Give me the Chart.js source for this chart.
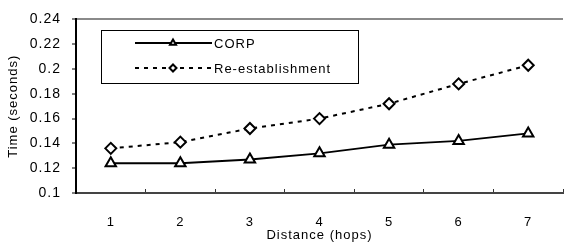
<!DOCTYPE html>
<html>
<head>
<meta charset="utf-8">
<script src="https://cdn.jsdelivr.net/npm/chart.js@4/dist/chart.umd.min.js"></script>
<style>
  html, body { margin: 0; padding: 0; background: #fff; }
  #wrap { width: 571px; height: 249px; position: relative; }
</style>
</head>
<body>
<div id="wrap"><canvas id="myChart" width="571" height="249"></canvas></div>
<script>
// donnees
const hops = ["1", "2", "3", "4", "5", "6", "7"];
const corp = [0.124, 0.124, 0.127, 0.132, 0.139, 0.142, 0.148];
const reEstablishment = [0.136, 0.141, 0.152, 0.160, 0.172, 0.188, 0.203];
const yTicks = [0.1, 0.12, 0.14, 0.16, 0.18, 0.2, 0.22, 0.24];

const police = "'Liberation Sans', Arial, sans-serif";

// texte un peu espace comme sur l'original
const espacement = {
  id: "espacement",
  beforeDraw(chart) {
    chart.ctx.letterSpacing = "1px";
  },
};

// legende dessinee dans un cadre a l'interieur du graphique
const legendeCadre = {
  id: "legendeCadre",
  afterDatasetsDraw(chart) {
    const ctx = chart.ctx;
    ctx.save();
    ctx.fillStyle = "#fff";
    ctx.fillRect(101, 30, 257, 53);
    ctx.strokeStyle = "#000";
    ctx.lineWidth = 1;
    ctx.strokeRect(101.5, 30.5, 257, 53);
    chart.data.datasets.forEach((ds, i) => {
      const y = 43 + i * 25;
      ctx.strokeStyle = "#000";
      ctx.lineWidth = ds.borderWidth;
      ctx.setLineDash(ds.borderDash || []);
      ctx.beginPath();
      ctx.moveTo(135, y);
      ctx.lineTo(212, y);
      ctx.stroke();
      ctx.setLineDash([]);
      ctx.fillStyle = "#fff";
      ctx.strokeStyle = "#000";
      ctx.lineWidth = 2;
      Chart.helpers.drawPoint(ctx, { pointStyle: ds.pointStyle, radius: 3.5, rotation: 0, borderWidth: 2 }, 173, y);
      ctx.fillStyle = "#000";
      ctx.font = "13px " + police;
      ctx.textBaseline = "middle";
      ctx.textAlign = "left";
      ctx.fillText(ds.label, 214, y + 1);
    });
    ctx.restore();
  },
};

const config = {
  type: "line",
  data: {
    labels: hops,
    datasets: [
      {
        label: "CORP",
        data: corp,
        borderColor: "#000",
        borderWidth: 1.8,
        pointStyle: "triangle",
        pointRadius: 6,
        pointBackgroundColor: "#fff",
        pointBorderColor: "#000",
        pointBorderWidth: 2,
      },
      {
        label: "Re-establishment",
        data: reEstablishment,
        borderColor: "#000",
        borderWidth: 2,
        borderDash: [4, 5],
        pointStyle: "rectRot",
        pointRadius: 5.5,
        pointBackgroundColor: "#fff",
        pointBorderColor: "#000",
        pointBorderWidth: 2,
      },
    ],
  },
  options: {
    responsive: false,
    animation: false,
    layout: { padding: { top: 15, right: 0, left: 0, bottom: 0 } },
    plugins: { legend: { display: false }, tooltip: { enabled: false } },
    scales: {
      x: {
        offset: true,
        grid: { offset: true, drawOnChartArea: false, tickLength: -4, tickColor: "#333", tickWidth: 1 },
        border: { color: "#444", width: 2 },
        ticks: { color: "#000", padding: 26, font: { family: police, size: 13 } },
        title: { display: true, text: "Distance (hops)", color: "#000", padding: { top: 6, bottom: 6 }, font: { family: police, size: 13 } },
        afterFit: (s) => { s.height = 56; },
      },
      y: {
        min: 0.1,
        max: 0.24,
        afterBuildTicks: (s) => { s.ticks = yTicks.map((v) => ({ value: v })); },
        grid: {
          color: (c) => (c.tick && Math.abs(c.tick.value - 0.24) < 1e-9 ? "#8a8a8a" : "rgba(0,0,0,0)"),
          lineWidth: 2,
          tickColor: "#000",
          tickLength: 4,
          tickWidth: 1,
        },
        border: { color: "#000", width: 2 },
        ticks: {
          color: "#000",
          padding: 11,
          font: { family: police, size: 14 },
          callback: (v) => String(Number(v.toFixed(2))),
        },
        title: { display: true, text: "Time (seconds)", color: "#000", padding: { top: 6, bottom: 6 }, font: { family: police, size: 13 } },
        afterFit: (s) => { s.width = 76; },
      },
    },
  },
  plugins: [espacement, legendeCadre],
};

let context = document.getElementById("myChart").getContext("2d");
let chart = new Chart(context, config);
</script>
</body>
</html>
